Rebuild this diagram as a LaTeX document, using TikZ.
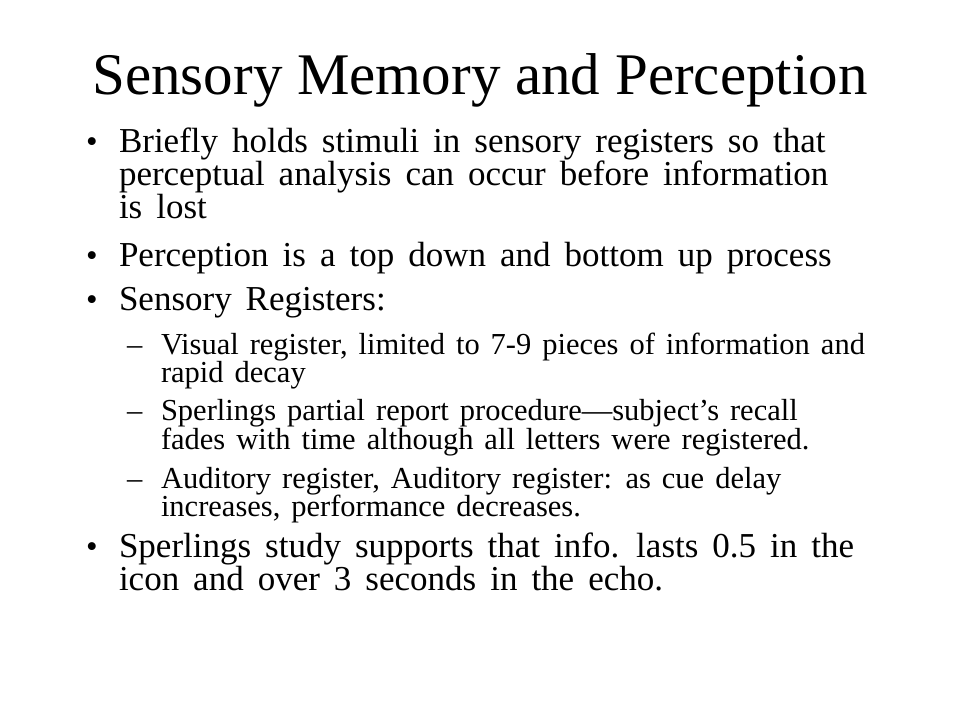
\documentclass[tikz,border=0pt]{standalone}
\usepackage{fontspec}
\setmainfont{Liberation Serif}
\newcommand{\mainfnt}{\fontsize{35}{35}\selectfont\spaceskip=0.4em plus 0.1em minus 0.05em\relax}
\newcommand{\subfnt}{\fontsize{30.5}{30.5}\selectfont\spaceskip=0.36em plus 0.1em minus 0.05em\relax}
\begin{document}
\begin{tikzpicture}[x=1pt,y=-1pt,
  every node/.style={inner sep=0pt,outer sep=0pt},
  titletext/.style={anchor=base,font=\fontsize{59}{59}\selectfont},
  maintext/.style={anchor=base west,font=\mainfnt},
  subtext/.style={anchor=base west,font=\subfnt},
  bulletmark/.style={anchor=base,font=\fontsize{33}{33}\selectfont},
  dashmark/.style={anchor=base west,font=\subfnt}]
\useasboundingbox (0,0) rectangle (960,720);
\fill[white] (0,0) rectangle (960,720);
% title
\node[titletext] (title) at (480,94) {Sensory Memory and Perception};
% main bullets
\node[bulletmark] (b1) at (92,152) {•};
\node[maintext] (l1) at (119,152) {Briefly holds stimuli in sensory registers so that};
\node[maintext] (l2) at (119,185) {perceptual analysis can occur before information};
\node[maintext] (l3) at (119,218) {is lost};
\node[bulletmark] (b2) at (92,266) {•};
\node[maintext] (l4) at (119,266) {Perception is a top down and bottom up process};
\node[bulletmark] (b3) at (92,310) {•};
\node[maintext] (l5) at (119,310) {Sensory Registers:};
% sub bullets
\node[dashmark] (d1) at (127,354) {–};
\node[subtext] (s1) at (161,354) {Visual register, limited to 7-9 pieces of information and};
\node[subtext] (s2) at (161,382) {rapid decay};
\node[dashmark] (d2) at (127,420) {–};
\node[subtext] (s3) at (161,420) {Sperlings partial report procedure—subject’s recall};
\node[subtext] (s4) at (161,449) {fades with time although all letters were registered.};
\node[dashmark] (d3) at (127,488) {–};
\node[subtext] (s5) at (161,488) {Auditory register, Auditory register: as cue delay};
\node[subtext] (s6) at (161,516) {increases, performance decreases.};
% last bullet
\node[bulletmark] (b4) at (92,557) {•};
\node[maintext] (l6) at (119,557) {Sperlings study supports that info. lasts 0.5 in the};
\node[maintext] (l7) at (119,590) {icon and over 3 seconds in the echo.};
\end{tikzpicture}
\end{document}
